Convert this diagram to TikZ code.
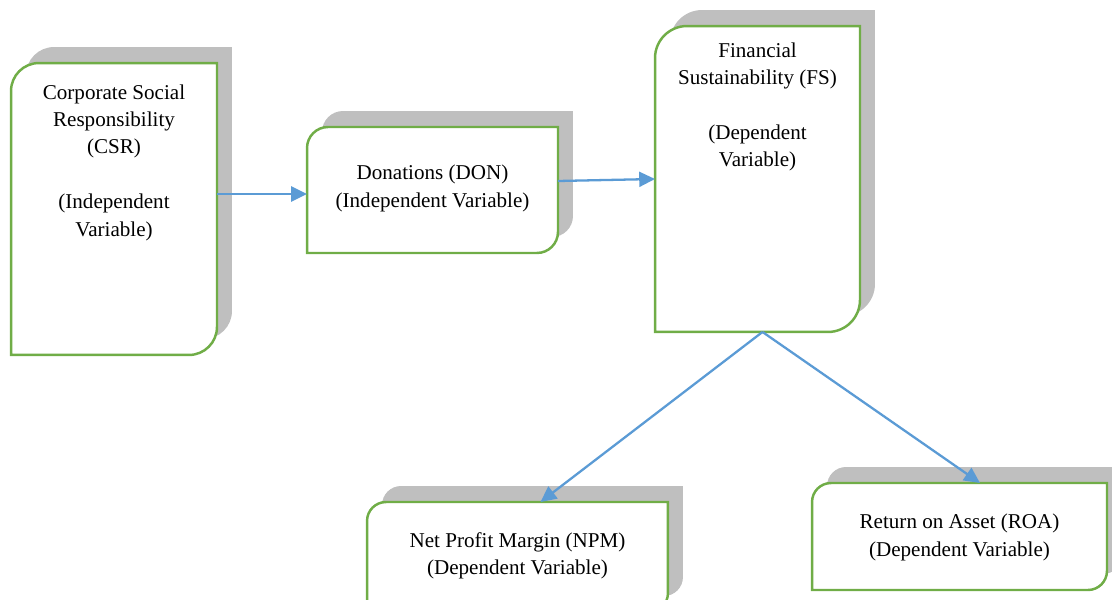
\documentclass[tikz,border=0pt]{standalone}
\usepackage{fontspec}
\setmainfont{Liberation Serif}
\usepackage{xcolor}
\usetikzlibrary{arrows.meta}
\usetikzlibrary{positioning}
\definecolor{boxgreen}{HTML}{70AD47}
\definecolor{shadowgray}{HTML}{BFBFBF}
\definecolor{linkblue}{HTML}{5B9BD5}

\begin{document}
\begin{tikzpicture}[x=0.02cm, y=0.02cm,
    varbox/.style={inner sep=0pt, outer sep=0pt},
    vartext/.style={align=center, inner sep=0pt, font=\fontsize{12}{15.6}\selectfont},
    link/.style={linkblue, line width=1.3pt, -{Triangle[length=9pt, width=8.5pt]}}]
  \useasboundingbox (0,0) rectangle (1112,599);
  % boxes
  \node[varbox, minimum width=4.12cm, minimum height=5.84cm] (csr) at (114,390) {};
  \node[varbox, minimum width=5.02cm, minimum height=2.52cm] (don) at (432.5,409) {};
  \node[varbox, minimum width=4.10cm, minimum height=6.12cm] (fs) at (757.5,420) {};
  \node[varbox, minimum width=6.02cm, minimum height=2.20cm] (npm) at (517.5,42) {};
  \node[varbox, minimum width=5.90cm, minimum height=2.14cm] (roa) at (959.5,62.5) {};
  % shadows
  \begin{scope}[transform canvas={shift={(0.3cm,0.32cm)}}]
    \foreach \n/\r in {csr/0.56cm, don/0.42cm, fs/0.64cm, npm/0.38cm, roa/0.38cm}
      \fill[shadowgray] (\n.north east) -- ([yshift=\r]\n.south east)
        arc[start angle=0, end angle=-90, radius=\r] -- (\n.south west)
        -- ([yshift=-\r]\n.north west) arc[start angle=180, end angle=90, radius=\r] -- cycle;
  \end{scope}
  % outlines
  \foreach \n/\r in {csr/0.56cm, don/0.42cm, fs/0.64cm, npm/0.38cm, roa/0.38cm}
    \filldraw[fill=white, draw=boxgreen, line width=1.4pt] (\n.north east) -- ([yshift=\r]\n.south east)
      arc[start angle=0, end angle=-90, radius=\r] -- (\n.south west)
      -- ([yshift=-\r]\n.north west) arc[start angle=180, end angle=90, radius=\r] -- cycle;
  % texts
  \node[vartext, below=0.42cm of csr.north] (csrtext) {Corporate Social\\Responsibility\\(CSR)\\[15.6pt](Independent\\Variable)};
  \node[vartext, below=0.76cm of don.north] (dontext) {Donations (DON)\\(Independent Variable)};
  \node[vartext, below=0.32cm of fs.north] (fstext) {Financial\\Sustainability (FS)\\[15.6pt](Dependent\\Variable)};
  \node[vartext, below=0.6cm of npm.north] (npmtext) {Net Profit Margin (NPM)\\(Dependent Variable)};
  \node[vartext, below=0.62cm of roa.north] (roatext) {Return on Asset (ROA)\\(Dependent Variable)};
  % links
  \draw[link] ([yshift=-0.08cm]csr.east |- don.west) -- ([yshift=-0.08cm]don.west);
  \draw[link] ([yshift=-0.04cm]don.east |- fs.west) -- (fs.west);
  \draw[link] ([xshift=0.1cm]fs.south) -- ([xshift=0.46cm]npm.north);
  \draw[link] ([xshift=0.1cm]fs.south) -- ([xshift=0.41cm]roa.north);
\end{tikzpicture}
\end{document}
